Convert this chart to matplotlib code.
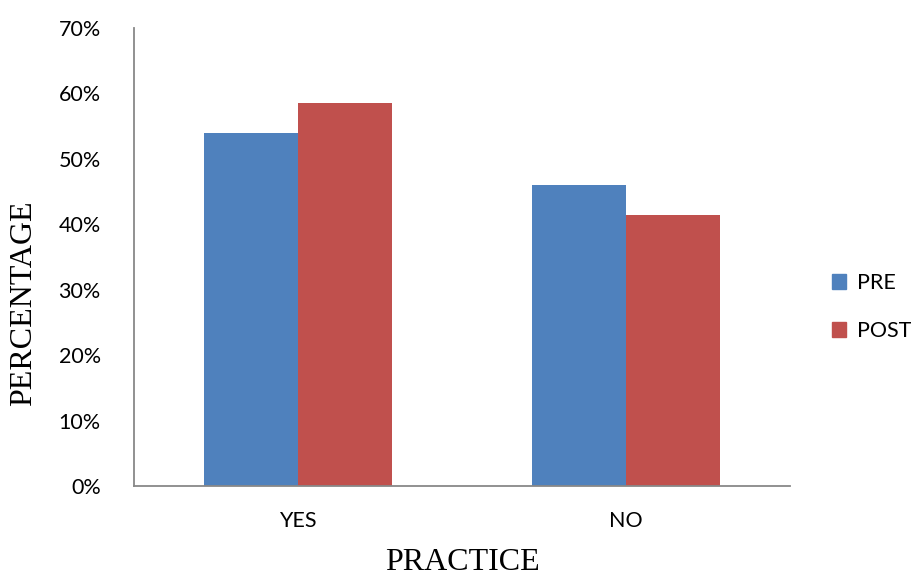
import matplotlib
matplotlib.use("Agg")
import matplotlib.pyplot as plt
import numpy as np
from matplotlib.ticker import PercentFormatter
from matplotlib.patches import Patch

categories = ["YES", "NO"]
pre_values = [54.0, 46.0]
post_values = [58.6, 41.4]
series_names = ["PRE", "POST"]
y_ticks = [0, 10, 20, 30, 40, 50, 60, 70]

blue = "#4F81BD"
red = "#C0504D"
tick_font = "Lato"
label_font = "Liberation Serif"

fig = plt.figure(figsize=(9.12, 5.77), dpi=100)
ax = fig.add_axes([134 / 912, 91 / 577, 656 / 912, 458 / 577])

x = np.arange(len(categories)) + 0.5
width = 1 / 3.5
ax.bar(x - width / 2, pre_values, width, color=blue, label=series_names[0])
ax.bar(x + width / 2, post_values, width, color=red, label=series_names[1])

ax.set_xlim(0, len(categories))
ax.set_ylim(0, 70)
ax.set_yticks(y_ticks)
ax.yaxis.set_major_formatter(PercentFormatter(decimals=0))
ax.set_xticks(x)
ax.set_xticklabels(categories)

for lab in ax.get_xticklabels() + ax.get_yticklabels():
    lab.set_fontfamily(tick_font)
    lab.set_fontsize(15.5)
ax.tick_params(axis="both", length=0)
ax.tick_params(axis="y", pad=24)
ax.tick_params(axis="x", pad=18)

for side in ["top", "right"]:
    ax.spines[side].set_visible(False)
for side in ["left", "bottom"]:
    ax.spines[side].set_color("#888888")
    ax.spines[side].set_linewidth(1.3)

fig.text(24 / 912, 1 - 303 / 577, "PERCENTAGE", fontfamily=label_font,
         fontsize=23, rotation=90, ha="center", va="center")
fig.text(462 / 912, 1 - 563 / 577, "PRACTICE", fontfamily=label_font,
         fontsize=23, ha="center", va="center")

handles = [Patch(color=blue), Patch(color=red)]
leg = fig.legend(handles, series_names, loc="center left",
                 bbox_to_anchor=(832 / 912, 1 - 307 / 577), frameon=False,
                 prop={"family": tick_font, "size": 15.5},
                 handlelength=0.65, handleheight=0.65, handletextpad=0.5,
                 labelspacing=1.3, borderpad=0, borderaxespad=0)

fig.savefig("out.png", dpi=100)
